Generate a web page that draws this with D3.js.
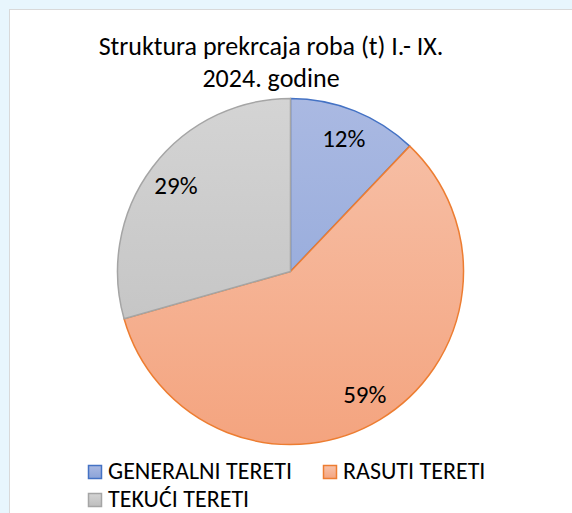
<!DOCTYPE html>
<html>
<head>
<meta charset="utf-8">
<script src="https://cdn.jsdelivr.net/npm/d3@7"></script>
<style>
  body { margin: 0; background: #e8f6fd; }
  svg { display: block; }
</style>
</head>
<body>
<div id="chart"></div>
<script>
// data
var categories = ["GENERALNI TERETI", "RASUTI TERETI", "TEKUĆI TERETI"];
var shares = [12.1, 58.5, 29.4];
var titleLines = ["Struktura prekrcaja roba (t) I.- IX.", "2024. godine"];

var strokeColors = ["#4472c4", "#ed7d31", "#a5a5a5"];
var gradTop = ["#aab9e2", "#f7c2aa", "#d4d4d4"];
var gradBottom = ["#8ba3d8", "#f4a47f", "#bebebe"];

var width = 572, height = 513;
var font = "Carlito, 'Open Sans', 'Noto Sans', sans-serif";

var svg = d3.select("#chart").append("svg")
    .attr("width", width)
    .attr("height", height);

// chart area
svg.append("rect")
    .attr("x", 9.5).attr("y", 9.5)
    .attr("width", 580).attr("height", 520)
    .attr("fill", "#ffffff")
    .attr("stroke", "#d9d9d9");

var defs = svg.append("defs");
var cx = 290.5, cy = 271.5, r = 173;

categories.forEach(function(c, i) {
    var g = defs.append("linearGradient")
        .attr("id", "grad" + i)
        .attr("gradientUnits", "userSpaceOnUse")
        .attr("x1", 0).attr("y1", -r)
        .attr("x2", 0).attr("y2", r);
    g.append("stop").attr("offset", "0%").attr("stop-color", gradTop[i]);
    g.append("stop").attr("offset", "100%").attr("stop-color", gradBottom[i]);

    var lg = defs.append("linearGradient")
        .attr("id", "lgrad" + i)
        .attr("x1", 0).attr("y1", 0).attr("x2", 0).attr("y2", 1);
    lg.append("stop").attr("offset", "0%").attr("stop-color", gradTop[i]);
    lg.append("stop").attr("offset", "100%").attr("stop-color", gradBottom[i]);
});

var pie = d3.pie().sort(null).value(function(d) { return d; });
var arcs = pie(shares);
var arc = d3.arc().innerRadius(0).outerRadius(r);
var labelArc = d3.arc().innerRadius(r * 0.83).outerRadius(r * 0.83);

var pieG = svg.append("g").attr("transform", "translate(" + cx + "," + cy + ")");

pieG.selectAll("path")
    .data(arcs)
    .enter().append("path")
    .attr("d", arc)
    .attr("fill", function(d, i) { return "url(#grad" + i + ")"; })
    .attr("stroke", function(d, i) { return strokeColors[i]; })
    .attr("stroke-width", 1.5)
    .attr("stroke-linejoin", "round");

pieG.selectAll("text")
    .data(arcs)
    .enter().append("text")
    .attr("transform", function(d) { return "translate(" + labelArc.centroid(d) + ")"; })
    .attr("text-anchor", "middle")
    .attr("dy", "0.35em")
    .style("font-family", font)
    .style("font-size", "25px")
    .style("fill", "#000")
    .text(function(d) { return Math.round(d.value) + "%"; });

// title
svg.append("g").selectAll("text")
    .data(titleLines)
    .enter().append("text")
    .attr("x", 271)
    .attr("y", function(d, i) { return 55 + i * 32; })
    .attr("text-anchor", "middle")
    .style("font-family", font)
    .style("font-size", "26px")
    .style("fill", "#000")
    .text(function(d) { return d; });

// legend
var legendPos = [[88, 465], [323, 465], [88, 493]];
var leg = svg.append("g").selectAll("g")
    .data(categories)
    .enter().append("g")
    .attr("transform", function(d, i) { return "translate(" + legendPos[i][0] + "," + legendPos[i][1] + ")"; });

leg.append("rect")
    .attr("x", 0.5).attr("y", 0.5)
    .attr("width", 13).attr("height", 13)
    .attr("fill", function(d, i) { return "url(#lgrad" + i + ")"; })
    .attr("stroke", function(d, i) { return strokeColors[i]; })
    .attr("stroke-width", 1.5);

leg.append("text")
    .attr("x", 20)
    .attr("y", 14)
    .style("font-family", font)
    .style("font-size", "24px")
    .style("fill", "#000")
    .text(function(d) { return d; });
</script>
</body>
</html>
